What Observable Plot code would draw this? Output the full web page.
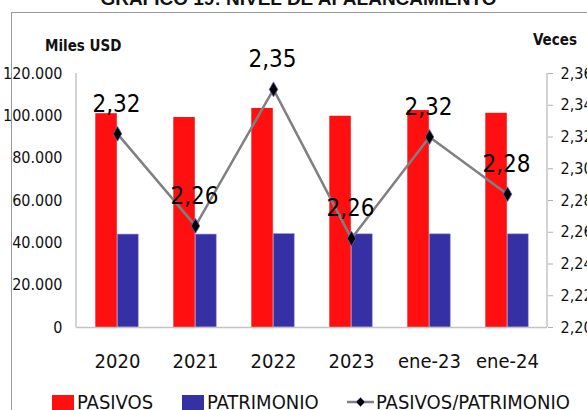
<!DOCTYPE html>
<html>
<head>
<meta charset="utf-8">
<script src="https://cdn.jsdelivr.net/npm/d3@7"></script>
<script src="https://cdn.jsdelivr.net/npm/@observablehq/plot@0.6"></script>
<style>
  html, body { margin: 0; padding: 0; background: #fff; }
  #wrap { position: relative; width: 587px; height: 410px; overflow: hidden; font-family: "Liberation Sans Narrow", "Arial Narrow", "DejaVu Sans Condensed", sans-serif; color: #111; }
  #border { position: absolute; left: 11px; top: 12px; width: 620px; height: 440px; border: 1.5px solid #9a9a9a; box-sizing: border-box; }
  #title { position: absolute; left: 0; width: 597px; top: -12px; text-align: center; font-family: "Liberation Sans", Arial, sans-serif; font-weight: bold; font-size: 19px; white-space: nowrap; }
  #chart { position: absolute; left: 0; top: 0; }
  .lbl { position: absolute; font-weight: bold; font-size: 15px; white-space: nowrap; }
  .leg { position: absolute; top: 390px; font-size: 20px; white-space: nowrap; display: flex; align-items: center; }
  .sw { display: inline-block; width: 22px; height: 15px; margin-right: 3px; }
</style>
</head>
<body>
<div id="wrap">
  <div id="border"></div>
  <div id="title">GRÁFICO 19: NIVEL DE APALANCAMIENTO</div>
  <div id="chart"></div>
  <div class="lbl" style="left:45px; top:37px;">Miles USD</div>
  <div class="lbl" style="left:533px; top:31px;">Veces</div>
  <div id="legend"></div>
</div>
<script>
const categories = ["2020", "2021", "2022", "2023", "ene-23", "ene-24"];
const pasivos = [101000, 99200, 103500, 99800, 102500, 101200];
const patrimonio = [43900, 43900, 44100, 44000, 44000, 44000];
const ratio = [2.322, 2.264, 2.350, 2.256, 2.320, 2.284];
const leftTicks = [0, 20000, 40000, 60000, 80000, 100000, 120000];
const rightTicks = [2.20, 2.22, 2.24, 2.26, 2.28, 2.30, 2.32, 2.34, 2.36];
const seriesNames = ["PASIVOS", "PATRIMONIO", "PASIVOS/PATRIMONIO"];
const colors = ["#ff0f0f", "#3530a3", "#808080"];

const data = categories.map((c, i) => ({cat: c, pasivos: pasivos[i], patrimonio: patrimonio[i], ratio: ratio[i]}));
// secondary axis mapped onto the primary y domain
const toLeft = d3.scaleLinear([rightTicks[0], rightTicks[rightTicks.length - 1]], [leftTicks[0], leftTicks[leftTicks.length - 1]]);
const fmtLeft = d => d3.format(",")(d).replace(/,/g, ".");
const fmtRatio = d => d3.format(".2f")(d).replace(".", ",");

const font = '"Liberation Sans Narrow", "Arial Narrow", "DejaVu Sans Condensed", sans-serif';

const chart = Plot.plot({
  width: 587,
  height: 375,
  marginTop: 73,
  marginBottom: 48,
  marginLeft: 76,
  marginRight: 40,
  style: {fontFamily: font, color: "#111", background: "transparent", overflow: "visible"},
  x: {domain: categories, padding: 0},
  y: {domain: [leftTicks[0], leftTicks[leftTicks.length - 1]]},
  marks: [
    Plot.barY(data, {x: "cat", y: "pasivos", fill: colors[0], insetLeft: 17.3, insetRight: 39.2}),
    Plot.barY(data, {x: "cat", y: "patrimonio", fill: colors[1], stroke: "#8f87d6", strokeWidth: 0.6, insetLeft: 39.3, insetRight: 17.8}),
    Plot.ruleY([0], {stroke: "#c4c4c4", strokeWidth: 1.5}),
    Plot.axisY(leftTicks, {anchor: "left", tickSize: 0, tickPadding: 14, tickFormat: fmtLeft, fontSize: 16, label: null}),
    Plot.axisY(rightTicks.map(toLeft), {anchor: "right", tickSize: 5, tickPadding: 8, stroke: "#b0b0b0", tickFormat: d => fmtRatio(toLeft.invert(d)), fontSize: 16, label: null}),
    Plot.axisX({tickSize: 0, tickPadding: 26, fontSize: 20, label: null}),
    Plot.line(data, {x: "cat", y: d => toLeft(d.ratio), stroke: colors[2], strokeWidth: 2.5}),
    Plot.dot(data, {x: "cat", y: d => toLeft(d.ratio), symbol: "diamond", r: 4.5, fill: "#000", stroke: "#6a5cb8", strokeWidth: 0.8}),
    Plot.text(data, {x: "cat", y: d => toLeft(d.ratio), text: d => fmtRatio(d.ratio), dy: -30, dx: -1, fontSize: 24, fill: "#000"})
  ]
});
document.getElementById("chart").appendChild(chart);

// vertical axis lines, positioned from the plot's own scales
const xs = chart.scale("x").range, ys = chart.scale("y").range;
const svg = d3.select(chart);
[xs[0], xs[1]].forEach(x => {
  svg.append("line").attr("x1", x).attr("x2", x).attr("y1", ys[0]).attr("y2", ys[1])
    .attr("stroke", "#c4c4c4").attr("stroke-width", 1.5);
});

// legend
const legend = document.getElementById("legend");
const legPos = [52, 182, 347];
seriesNames.forEach((name, i) => {
  const item = document.createElement("div");
  item.className = "leg";
  item.style.left = legPos[i] + "px";
  let sym;
  if (i < 2) {
    sym = `<span class="sw" style="background:${colors[i]}"></span>`;
  } else {
    sym = `<svg width="27" height="14" style="margin-right:2px"><line x1="0" x2="27" y1="7" y2="7" stroke="${colors[2]}" stroke-width="2.5"/><path d="M13.5 2.5 L18 7 L13.5 11.5 L9 7 Z" fill="#000" stroke="#6a5cb8" stroke-width="0.8"/></svg>`;
  }
  item.innerHTML = sym + `<span>${name}</span>`;
  legend.appendChild(item);
});
</script>
</body>
</html>
